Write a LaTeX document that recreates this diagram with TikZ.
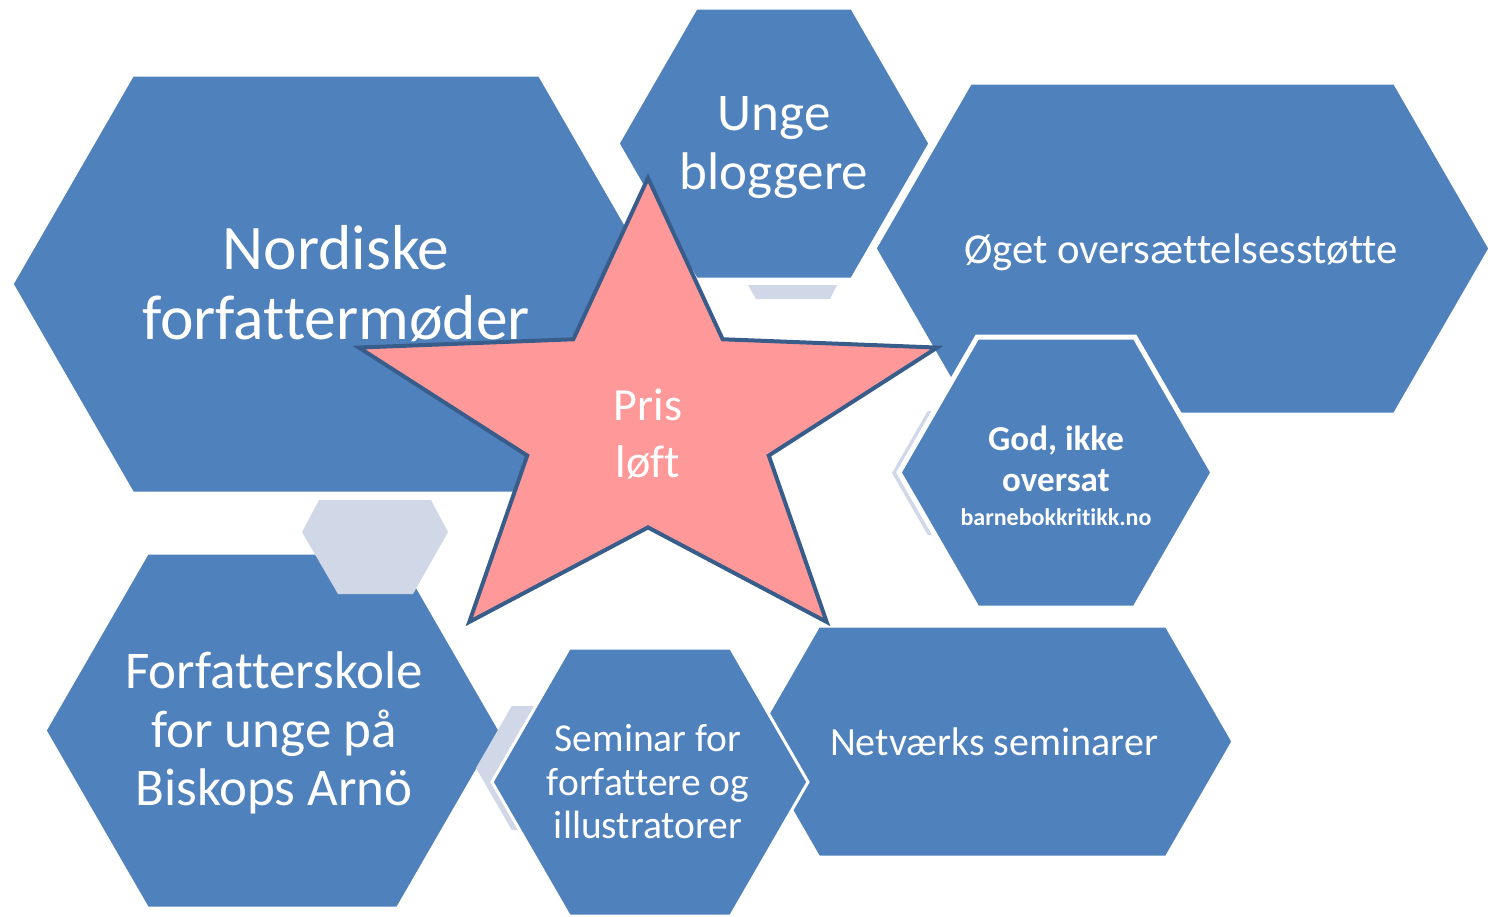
\documentclass[tikz,border=0pt]{standalone}
\usepackage{fontspec}
\setmainfont{Carlito}[Ligatures={NoCommon}]
\definecolor{hexblue}{HTML}{4F81BD}
\definecolor{hexgrey}{HTML}{D0D8E8}
\definecolor{starpink}{HTML}{FF9999}
\definecolor{starline}{HTML}{385D8A}
% hexagon: centre x, centre y, half width, half height
\newcommand{\hexa}[5][]{%
  \path[#1] ({#2-#4},#3) -- ({#2-#4+0.577*#5},{#3-#5}) -- ({#2+#4-0.577*#5},{#3-#5})
    -- ({#2+#4},#3) -- ({#2+#4-0.577*#5},{#3+#5}) -- ({#2-#4+0.577*#5},{#3+#5}) -- cycle;}
\begin{document}
\begin{tikzpicture}[x=1pt,y=-1pt,
    hexa/.style={fill=hexblue, draw=white, line width=3pt},
    greyhex/.style={fill=hexgrey},
    lbl/.style={text=white, align=center, inner sep=0pt},
    prisstar/.style={fill=starpink, draw=starline, line width=4pt, line join=miter}]
  \useasboundingbox[fill=white] (0,0) rectangle (1493,916);

  \fill[hexgrey] (748,285) -- (837,285) -- (830,299) -- (756,299) -- cycle;
  \hexa[hexa]{774}{143.5}{156}{135.5}
  \hexa[hexa]{1182.5}{248.5}{307.5}{165.5}
  \hexa[greyhex]{965}{473}{73}{62}
  \hexa[hexa, line width=5pt]{1056}{472.5}{157}{135.5}
  \hexa[hexa]{272.5}{730.5}{227.5}{177.5}
  \fill[hexgrey] (319,500) -- (431,500) -- (448,532) -- (413,594) -- (338,594) -- (302,532) -- cycle;
  \hexa[hexa]{336}{284}{324}{209}
  \hexa[hexa]{992.5}{741.5}{240.5}{115.5}
  \hexa[greyhex]{549}{768}{73}{62}
  \hexa[hexa]{650}{782}{158}{134}

  \node[lbl, font=\fontsize{63.5}{70}\selectfont] (nordisk) at (336,284) {Nordiske\\forfattermøder};
  \node[lbl, font=\fontsize{53}{59}\selectfont] (blogg) at (774,148) {Unge\\bloggere};
  \node[lbl, font=\fontsize{42.7}{50}\selectfont] (overs) at (1181,252) {Øget oversættelsesstøtte};
  \node[lbl, font=\bfseries\fontsize{35}{41}\selectfont] (godbok) at (1056,476)
    {God, ikke\\oversat\\[-7pt]{\fontsize{24}{30}\selectfont barnebokkritikk.no}};
  \node[lbl, font=\fontsize{53}{58.5}\selectfont] (skole) at (274,733) {Forfatterskole\\for unge på\\Biskops Arnö};
  \node[lbl, font=\fontsize{39.5}{43.5}\selectfont] (seminar) at (648,782) {Seminar for\\forfattere og\\illustratorer};
  \node[lbl, font=\fontsize{40}{47}\selectfont] (netvaerk) at (994,742) {Netværks seminarer};

  \draw[prisstar, shift={(648,423.4)}] (90:304pt and 245.4pt)
    \foreach \a in {54,-18,-90,-162,-234} {-- (\a:127pt and 104pt) -- (\a-36:304pt and 245.4pt)} -- cycle;
  \node[lbl, font=\fontsize{46}{57}\selectfont] (pris) at (648,434) {Pris\\løft};
\end{tikzpicture}
\end{document}
